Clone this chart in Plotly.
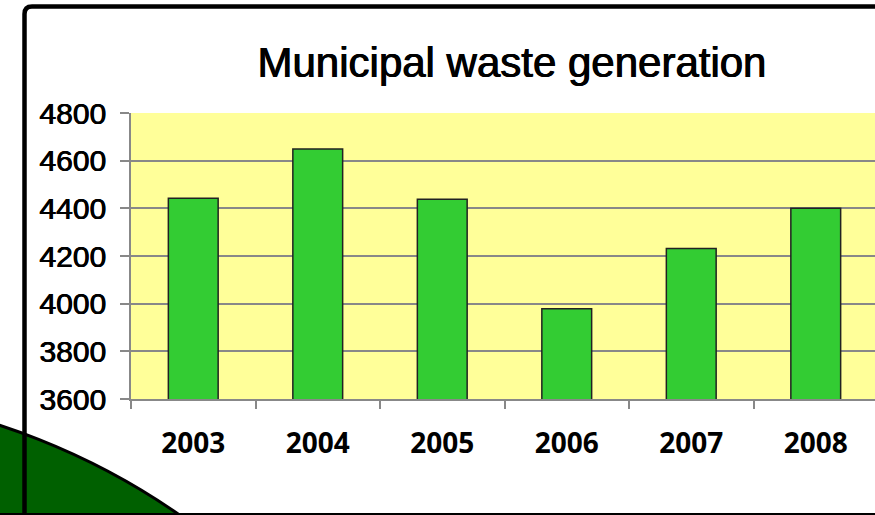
import plotly.graph_objects as go

years = ["2003", "2004", "2005", "2006", "2007", "2008"]
waste = [4442, 4649, 4438, 3979, 4231, 4400]
y_ticks = [3600, 3800, 4000, 4200, 4400, 4600, 4800]

W, H = 875, 515
L, T, B = 131, 113, 116
PW, PH = W - L, H - T - B


def px(x):
    return (x - L) / PW


def py(y):
    return (H - B - y) / PH


fig = go.Figure(go.Bar(
    x=years, y=waste, width=0.4,
    marker=dict(color="#33CC33", line=dict(color="#222222", width=1.5)),
))

shapes = [
    # dark green disc bottom-left
    dict(type="circle", xref="paper", yref="paper",
         x0=px(-904), x1=px(474), y0=py(391), y1=py(1769),
         fillcolor="#006000", line=dict(color="black", width=3), layer="above"),
    # frame lines
    dict(type="path", xref="paper", yref="paper",
         path=f"M {px(24.5)},{py(520)} L {px(24.5)},{py(14)} Q {px(24.5)},{py(6.5)} {px(32)},{py(6.5)} L {px(880)},{py(6.5)}",
         line=dict(color="black", width=4.5), layer="above"),
    dict(type="line", xref="paper", yref="paper",
         x0=px(0), x1=px(880), y0=py(514), y1=py(514),
         line=dict(color="black", width=2), layer="above"),
]

fig.update_layout(
    width=W, height=H,
    margin=dict(l=L, r=0, t=T, b=B, autoexpand=False),
    paper_bgcolor="white",
    plot_bgcolor="#FFFF99",
    showlegend=False,
    bargap=0.6,
    title=dict(text="Municipal waste generation", x=512 / W, xref="container",
               xanchor="center", y=1 - 62 / H, yref="container", yanchor="middle",
               font=dict(family="Liberation Sans", size=42, color="black",
                         shadow="0.5px 0 0 black, -0.5px 0 0 black")),
    shapes=shapes,
)

fig.update_xaxes(
    range=[-0.5, 5.5 - 3 / 124.5],
    tickson="boundaries", ticks="outside", ticklen=8, tickwidth=2, tickcolor="#888888",
    showline=True, linecolor="#888888", linewidth=2,
    showgrid=False,
    tickfont=dict(family="Noto Sans", size=28, color="black", weight="bold"),
    ticklabelstandoff=18,
)
fig.update_yaxes(
    range=[3600, 4800], tickvals=y_ticks, ticktext=[str(v) for v in y_ticks],
    ticks="outside", ticklen=9, tickwidth=2, tickcolor="#888888",
    showline=True, linecolor="#888888", linewidth=1.5,
    showgrid=True, gridcolor="#888888", gridwidth=1.5,
    zeroline=False,
    tickfont=dict(family="Liberation Sans", size=30, color="black",
                  shadow="0.4px 0 0 black, -0.4px 0 0 black"),
    ticklabelstandoff=8,
)

fig.write_html("out.html", config={"displayModeBar": False},
               post_script="document.body.style.margin='0';document.body.style.padding='0';")
